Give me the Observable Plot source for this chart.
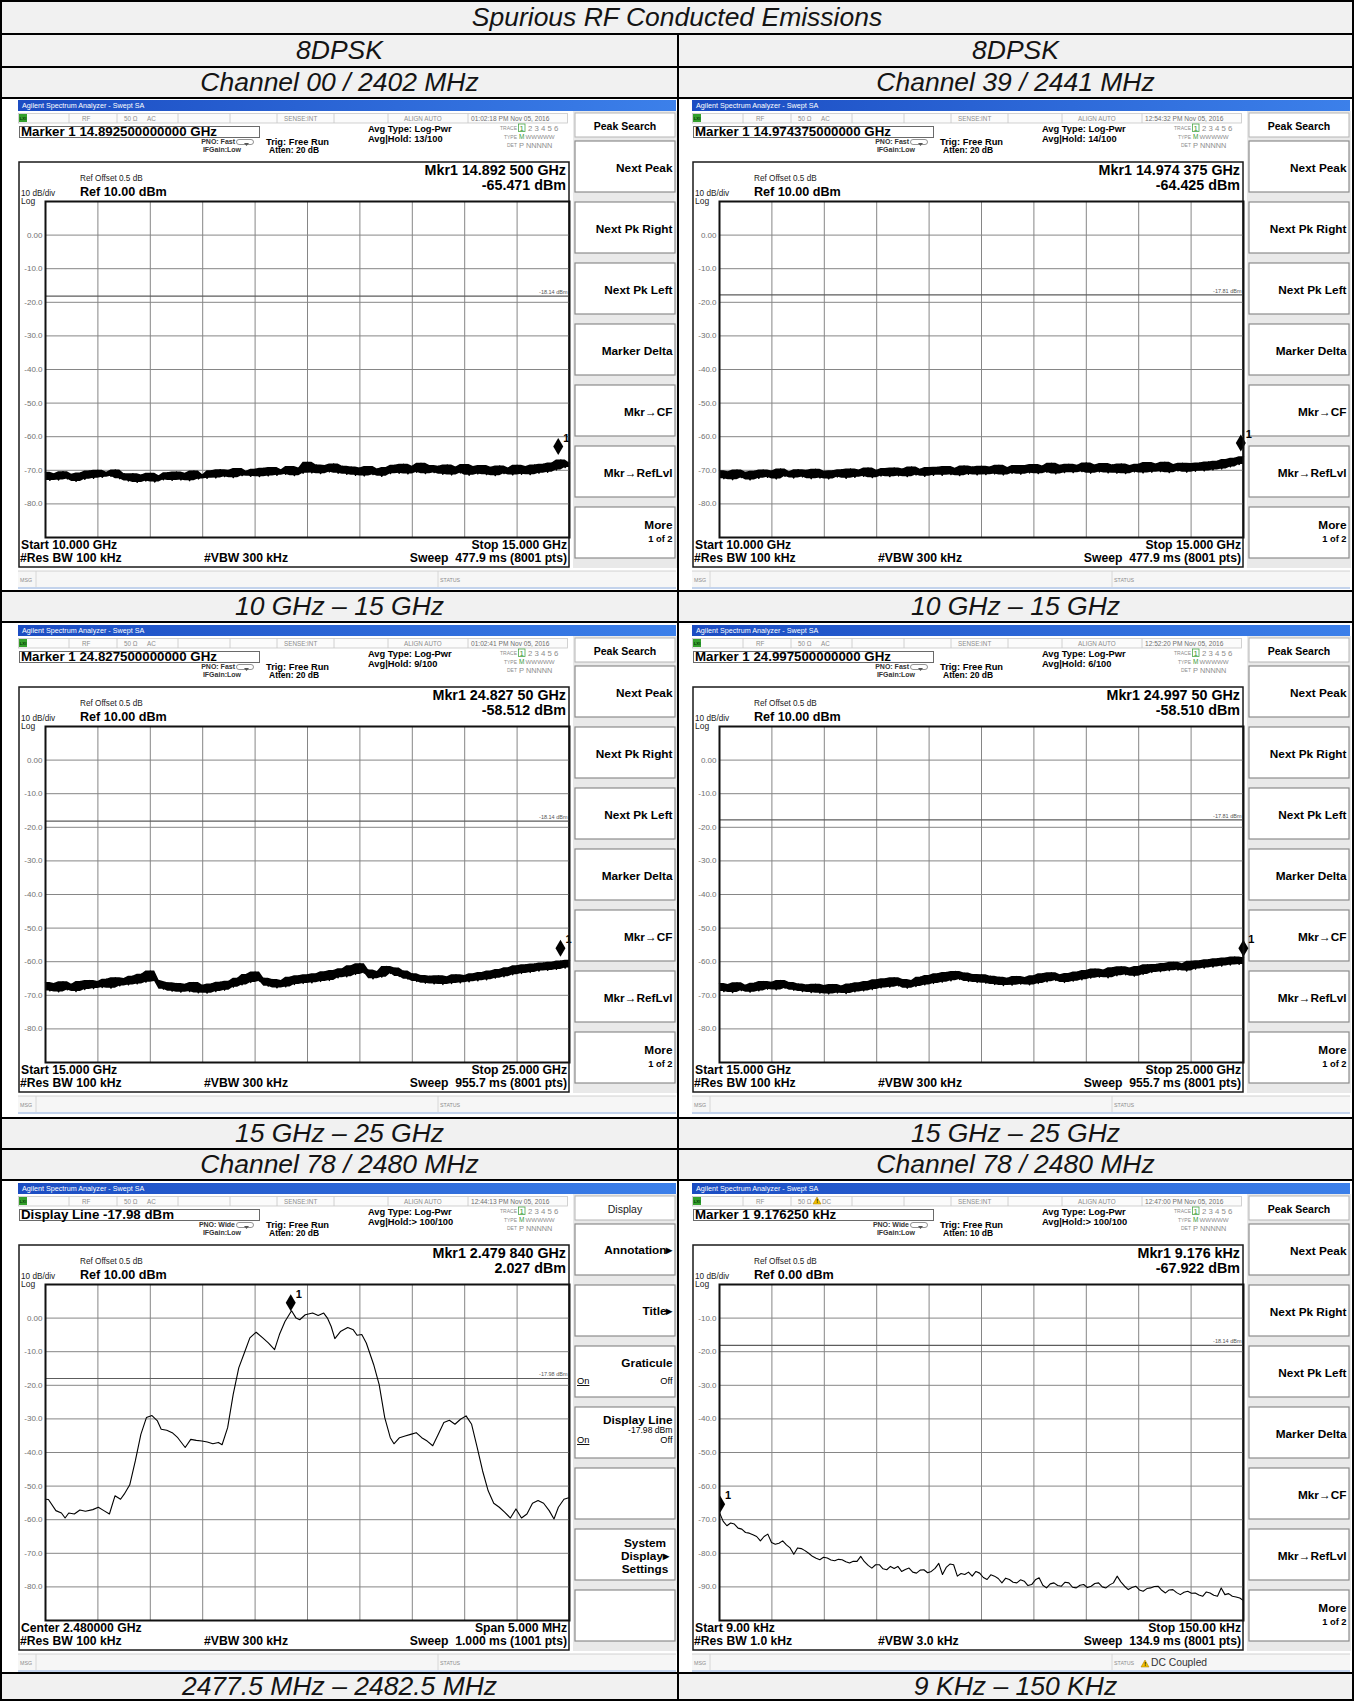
<!DOCTYPE html>
<html>
<head>
<meta charset="utf-8">
<script src="https://cdn.jsdelivr.net/npm/d3@7"></script>
<script src="https://cdn.jsdelivr.net/npm/@observablehq/plot@0.6"></script>
<style>
html,body{margin:0;padding:0;background:#fff;}
#page{position:relative;width:1354px;height:1701px;overflow:hidden;font-family:"Liberation Sans",Arial,Helvetica,sans-serif;}
.cell{position:absolute;background:#f1f1f1;display:flex;align-items:center;justify-content:center;font-style:italic;font-size:26.5px;line-height:1;color:#141414;}
.bd{position:absolute;background:#000;}
.shot{position:absolute;background:#fff;}
.shot svg{position:absolute;overflow:visible;}
</style>
</head>
<body>
<div id="page"></div>
<script>
const FONT = '"Liberation Sans", Arial, Helvetica, sans-serif';

// ---------------- table texts ----------------
const tableTitle = "Spurious RF Conducted Emissions";
const modulation = ["8DPSK", "8DPSK"];
const channelTop = ["Channel 00 / 2402 MHz", "Channel 39 / 2441 MHz"];
const rangeRow1 = ["10 GHz – 15 GHz", "10 GHz – 15 GHz"];
const rangeRow2 = ["15 GHz – 25 GHz", "15 GHz – 25 GHz"];
const channelBottom = ["Channel 78 / 2480 MHz", "Channel 78 / 2480 MHz"];
const rangeRow3 = ["2477.5 MHz – 2482.5 MHz", "9 KHz – 150 KHz"];

// ---------------- sweep settings per screenshot ----------------
const sweepStart = [10, 10, 15, 15, 2477.5, 9];
const sweepStop = [15, 15, 25, 25, 2482.5, 150];
const refLevel = [10, 10, 10, 10, 10, 0];
const displayLine = [-18.14, -17.81, -18.14, -17.81, -17.98, -18.14];
const displayLineLabel = ["-18.14 dBm", "-17.81 dBm", "-18.14 dBm", "-17.81 dBm", "-17.98 dBm", "-18.14 dBm"];
const markerX = [14.8925, 14.974375, 24.8275, 24.9975, 2479.84, 9.17625];
const markerY = [-65.471, -64.425, -58.512, -58.510, 2.027, -67.922];

// ---------------- instrument annotations ----------------
const dates = ["01:02:18 PM Nov 05, 2016", "12:54:32 PM Nov 05, 2016", "01:02:41 PM Nov 05, 2016", "12:52:20 PM Nov 05, 2016", "12:44:13 PM Nov 05, 2016", "12:47:00 PM Nov 05, 2016"];
const markerBox = ["Marker 1 14.892500000000 GHz", "Marker 1 14.974375000000 GHz", "Marker 1 24.827500000000 GHz", "Marker 1 24.997500000000 GHz", "Display Line -17.98 dBm", "Marker 1 9.176250 kHz"];
const mkrFreqText = ["Mkr1 14.892 500 GHz", "Mkr1 14.974 375 GHz", "Mkr1 24.827 50 GHz", "Mkr1 24.997 50 GHz", "Mkr1 2.479 840 GHz", "Mkr1 9.176 kHz"];
const mkrLevelText = ["-65.471 dBm", "-64.425 dBm", "-58.512 dBm", "-58.510 dBm", "2.027 dBm", "-67.922 dBm"];
const pnoText = ["PNO: Fast", "PNO: Fast", "PNO: Fast", "PNO: Fast", "PNO: Wide", "PNO: Wide"];
const attenText = ["Atten: 20 dB", "Atten: 20 dB", "Atten: 20 dB", "Atten: 20 dB", "Atten: 20 dB", "Atten: 10 dB"];
const avgHoldText = ["Avg|Hold: 13/100", "Avg|Hold: 14/100", "Avg|Hold: 9/100", "Avg|Hold: 6/100", "Avg|Hold:> 100/100", "Avg|Hold:> 100/100"];
const refText = ["Ref 10.00 dBm", "Ref 10.00 dBm", "Ref 10.00 dBm", "Ref 10.00 dBm", "Ref 10.00 dBm", "Ref 0.00 dBm"];
const startText = ["Start 10.000 GHz", "Start 10.000 GHz", "Start 15.000 GHz", "Start 15.000 GHz", "Center 2.480000 GHz", "Start 9.00 kHz"];
const stopText = ["Stop 15.000 GHz", "Stop 15.000 GHz", "Stop 25.000 GHz", "Stop 25.000 GHz", "Span 5.000 MHz", "Stop 150.00 kHz"];
const rbwText = ["#Res BW 100 kHz", "#Res BW 100 kHz", "#Res BW 100 kHz", "#Res BW 100 kHz", "#Res BW 100 kHz", "#Res BW 1.0 kHz"];
const vbwText = ["#VBW 300 kHz", "#VBW 300 kHz", "#VBW 300 kHz", "#VBW 300 kHz", "#VBW 300 kHz", "#VBW 3.0 kHz"];
const sweepText = ["Sweep  477.9 ms (8001 pts)", "Sweep  477.9 ms (8001 pts)", "Sweep  955.7 ms (8001 pts)", "Sweep  955.7 ms (8001 pts)", "Sweep  1.000 ms (1001 pts)", "Sweep  134.9 ms (8001 pts)"];
const peakSearchKeys = ["Next Peak", "Next Pk Right", "Next Pk Left", "Marker Delta", "Mkr→CF", "Mkr→RefLvl", "More"];

// ---------------- traces (dBm) ----------------
// Ch 00, 10–15 GHz (121 pts across sweep)
const ch00_10to15 = [
-70.6,-73.0,-71.0,-72.9,-70.4,-72.6,-71.2,-73.3,-70.8,-72.7,
-70.2,-72.4,-70.0,-72.1,-70.6,-71.8,-69.9,-72.5,-71.0,-73.2,
-71.0,-73.6,-71.4,-73.2,-70.9,-73.5,-71.6,-72.8,-70.7,-73.0,
-70.5,-72.9,-70.9,-73.1,-70.2,-72.6,-71.3,-72.4,-70.1,-72.3,
-69.8,-71.9,-70.0,-72.2,-69.5,-71.6,-70.3,-71.8,-69.7,-71.9,
-69.4,-71.7,-69.2,-71.5,-69.8,-71.2,-68.9,-71.6,-69.3,-70.9,
-67.6,-70.8,-68.4,-71.0,-68.6,-70.5,-68.1,-70.9,-68.8,-71.2,
-69.0,-71.5,-69.3,-71.7,-68.9,-71.3,-69.6,-71.8,-69.2,-71.0,
-68.5,-70.9,-68.2,-71.1,-68.8,-70.6,-67.9,-71.0,-68.6,-70.7,
-68.8,-71.2,-68.4,-71.4,-69.0,-70.8,-68.3,-71.5,-68.9,-71.1,
-68.6,-71.3,-69.1,-71.6,-68.7,-71.0,-69.3,-71.4,-68.5,-71.2,
-68.9,-71.3,-68.4,-70.9,-68.2,-70.6,-67.8,-69.9,-66.9,-69.2,-67.8];
// Ch 39, 10–15 GHz
const ch39_10to15 = [
-70.1,-72.5,-70.4,-72.8,-69.9,-72.2,-70.6,-72.9,-70.3,-72.4,
-69.9,-72.1,-70.2,-72.6,-69.6,-71.8,-70.4,-72.3,-69.8,-72.0,
-70.0,-72.5,-69.7,-72.3,-70.3,-72.6,-70.1,-72.0,-69.8,-72.4,
-69.6,-72.1,-69.9,-71.8,-69.3,-72.2,-70.0,-71.7,-69.5,-71.9,
-69.3,-71.7,-69.6,-71.9,-69.0,-71.4,-69.7,-71.8,-69.2,-71.5,
-69.1,-71.5,-68.9,-71.3,-69.4,-71.6,-68.7,-71.2,-69.0,-71.4,
-68.8,-71.3,-69.0,-71.1,-68.5,-71.4,-69.2,-70.9,-68.6,-71.2,
-68.6,-70.8,-68.3,-71.0,-68.7,-70.6,-67.9,-71.1,-68.5,-70.7,
-68.2,-70.7,-68.5,-70.4,-67.8,-70.9,-68.4,-70.5,-68.0,-70.8,
-68.4,-70.9,-68.1,-71.0,-68.6,-70.5,-68.2,-70.8,-67.7,-70.6,
-68.1,-70.4,-67.6,-70.7,-68.3,-70.2,-67.9,-70.6,-68.0,-70.3,
-67.8,-70.2,-67.5,-69.9,-67.3,-69.6,-66.8,-69.0,-66.4,-68.3,-66.0];
// Ch 00, 15–25 GHz
const ch00_15to25 = [
-66.2,-68.7,-66.5,-69.0,-66.0,-68.4,-66.7,-68.9,-65.9,-68.3,
-65.6,-68.0,-65.9,-67.7,-65.2,-67.9,-64.8,-67.2,-65.0,-66.9,
-64.3,-66.6,-63.7,-66.1,-62.8,-65.5,-65.9,-68.2,-66.3,-68.8,
-66.5,-69.1,-66.7,-68.9,-66.2,-69.3,-67.0,-69.4,-66.6,-68.9,
-66.1,-68.5,-65.8,-67.6,-64.9,-66.9,-63.8,-66.2,-63.1,-65.8,
-64.9,-67.3,-65.3,-67.8,-65.6,-67.5,-64.6,-66.8,-64.2,-66.5,
-63.9,-66.3,-63.6,-65.9,-63.0,-65.6,-62.6,-64.8,-62.1,-64.5,
-61.2,-63.8,-60.6,-63.4,-62.5,-65.1,-62.9,-64.6,-61.4,-63.5,
-61.9,-64.4,-62.8,-65.2,-63.6,-65.9,-64.1,-66.4,-64.3,-66.6,
-64.2,-66.8,-64.5,-66.5,-63.9,-66.3,-64.1,-66.0,-63.6,-65.7,
-63.2,-65.4,-62.8,-64.9,-62.3,-64.5,-61.8,-63.9,-61.2,-63.5,
-60.9,-63.2,-60.7,-62.8,-60.4,-62.6,-60.2,-62.3,-59.8,-61.9,-59.6];
// Ch 39, 15–25 GHz
const ch39_15to25 = [
-66.5,-68.9,-66.8,-69.2,-66.3,-68.6,-67.0,-69.1,-66.4,-68.7,
-65.9,-68.2,-66.1,-68.4,-65.6,-67.9,-66.2,-68.5,-66.6,-68.9,
-66.9,-69.2,-66.7,-69.4,-67.1,-69.6,-66.8,-69.3,-67.2,-69.5,
-66.6,-69.0,-66.3,-68.7,-65.9,-68.3,-65.4,-67.8,-65.1,-67.6,
-64.8,-67.2,-65.3,-67.9,-65.6,-67.4,-64.6,-66.9,-64.1,-66.5,
-63.6,-66.1,-63.2,-65.7,-62.9,-65.3,-63.4,-65.9,-63.8,-66.2,
-63.9,-66.4,-64.3,-66.8,-64.6,-67.1,-64.9,-67.0,-64.4,-66.7,
-64.7,-66.9,-64.2,-66.5,-63.6,-66.0,-63.3,-65.6,-63.9,-66.2,
-63.5,-65.8,-63.1,-65.4,-62.6,-64.9,-62.2,-64.6,-62.5,-64.8,
-61.8,-64.2,-61.5,-63.9,-61.9,-64.3,-61.4,-63.8,-60.9,-63.2,
-60.8,-63.0,-60.5,-62.7,-60.2,-62.5,-60.6,-62.8,-59.9,-62.2,
-59.7,-61.9,-59.4,-61.6,-59.1,-61.3,-58.9,-61.0,-58.6,-60.8,-58.8];
// Ch 78 band edge, frequency (MHz) and level (dBm)
const ch78_edge_MHz = [2477.500,2477.528,2477.599,2477.652,2477.687,2477.722,2477.775,2477.828,2477.881,2477.951,
2478.004,2478.057,2478.110,2478.163,2478.216,2478.251,2478.304,2478.357,2478.410,2478.463,
2478.516,2478.568,2478.604,2478.657,2478.709,2478.762,2478.833,2478.886,2478.939,2478.992,
2479.044,2479.097,2479.150,2479.185,2479.238,2479.291,2479.344,2479.397,2479.450,2479.510,
2479.573,2479.626,2479.686,2479.732,2479.785,2479.848,2479.891,2479.926,2479.979,2480.049,
2480.102,2480.155,2480.190,2480.226,2480.261,2480.314,2480.384,2480.437,2480.473,2480.518,
2480.561,2480.631,2480.684,2480.737,2480.790,2480.825,2480.878,2480.931,2480.984,2481.037,
2481.090,2481.142,2481.195,2481.248,2481.301,2481.354,2481.407,2481.460,2481.513,2481.566,
2481.619,2481.671,2481.724,2481.777,2481.830,2481.883,2481.936,2481.989,2482.042,2482.094,
2482.147,2482.200,2482.253,2482.306,2482.352,2482.394,2482.447,2482.500];
const ch78_edge_dBm = [-53.9,-54.0,-57.3,-58.0,-59.5,-58.0,-58.3,-57.1,-57.5,-57.0,
-56.3,-57.3,-58.3,-52.9,-53.9,-52.4,-49.6,-42.5,-34.6,-29.6,
-29.0,-30.6,-33.1,-33.4,-34.1,-35.6,-38.5,-36.1,-36.4,-36.6,
-36.9,-37.4,-37.0,-37.7,-32.6,-22.7,-14.8,-10.4,-5.9,-4.2,
-5.9,-7.4,-9.4,-4.9,-1.0,2.2,0.0,-0.5,1.0,1.5,
0.8,1.5,0.0,-2.5,-6.1,-4.0,-2.8,-3.5,-5.1,-4.9,
-7.4,-13.8,-19.8,-29.6,-35.6,-37.4,-35.6,-35.1,-34.6,-34.1,
-35.6,-36.6,-38.0,-34.6,-31.1,-30.4,-31.6,-30.1,-29.1,-31.6,
-38.5,-45.5,-51.4,-55.1,-56.3,-57.8,-59.5,-56.8,-59.5,-58.3,
-55.1,-54.3,-55.1,-57.3,-59.8,-56.3,-53.9,-53.4];
// Ch 78, 9–150 kHz, one reading per kHz
const ch78_low_dBm = [
-67.9,-70.5,-71.8,-71.0,-71.3,-72.5,-72.8,-73.8,-74.0,-74.5,
-75.0,-76.3,-75.0,-74.3,-76.8,-77.3,-77.0,-76.3,-77.5,-78.4,
-80.3,-78.4,-78.6,-79.2,-80.0,-80.9,-81.5,-81.9,-81.2,-81.4,
-82.0,-82.2,-81.8,-81.9,-82.5,-82.9,-82.4,-82.4,-80.9,-82.5,
-83.6,-84.4,-83.4,-83.4,-84.6,-84.9,-83.9,-84.5,-83.9,-85.4,
-84.8,-84.4,-85.6,-85.9,-85.0,-84.9,-85.8,-85.4,-84.5,-83.0,
-86.3,-84.2,-83.2,-83.4,-86.8,-86.0,-86.3,-85.6,-86.8,-85.4,
-85.9,-87.2,-87.8,-86.4,-86.8,-87.5,-88.8,-87.4,-87.8,-88.6,
-88.8,-87.9,-88.3,-89.6,-89.3,-87.9,-87.3,-89.5,-90.3,-89.1,
-88.8,-89.6,-89.8,-88.6,-88.8,-90.1,-90.3,-89.5,-89.3,-90.2,
-89.8,-89.0,-88.8,-90.0,-90.3,-89.4,-88.8,-86.8,-88.5,-89.8,
-90.8,-90.2,-89.8,-90.9,-91.3,-90.5,-90.3,-89.9,-89.8,-91.0,
-91.8,-90.9,-90.8,-91.7,-92.3,-91.6,-91.3,-91.9,-91.8,-92.4,
-92.8,-91.5,-91.8,-92.5,-92.8,-90.3,-92.3,-92.0,-92.8,-93.0,
-93.3,-94.1];

// ---------------- page helpers ----------------
const page = d3.select("#page");
function border(x, y, w, h) { page.append("div").attr("class", "bd").style("left", x + "px").style("top", y + "px").style("width", w + "px").style("height", h + "px"); }
function cell(x1, x2, y1, y2, text) {
  page.append("div").attr("class", "cell").style("left", x1 + "px").style("top", y1 + "px")
    .style("width", (x2 - x1) + "px").style("height", (y2 - y1) + "px").text(text);
}
const colX = [[2, 677], [679, 1352]];
cell(2, 1352, 2, 33, tableTitle);
[0, 1].forEach(c => {
  cell(colX[c][0], colX[c][1], 35, 66, modulation[c]);
  cell(colX[c][0], colX[c][1], 68, 97, channelTop[c]);
  cell(colX[c][0], colX[c][1], 592, 621, rangeRow1[c]);
  cell(colX[c][0], colX[c][1], 1119, 1148, rangeRow2[c]);
  cell(colX[c][0], colX[c][1], 1150, 1179, channelBottom[c]);
  cell(colX[c][0], colX[c][1], 1674, 1699, rangeRow3[c]);
});
[0, 33, 66, 97, 590, 621, 1117, 1148, 1179, 1672, 1699].forEach(y => border(0, y, 1354, 2));
border(0, 0, 2, 1701); border(1352, 0, 2, 1701); border(677, 33, 2, 1668);

// ---------------- screenshot chrome ----------------
const W = 658, H = 489;
function T(g, x, y, s, size, o = {}) {
  const t = g.append("text").attr("x", x).attr("y", y).attr("font-size", size)
    .attr("fill", o.fill || "#000").attr("text-anchor", o.anchor || "start")
    .style("white-space", "pre").text(s);
  if (o.bold) t.attr("font-weight", "bold");
  if (o.underline) t.attr("text-decoration", "underline");
  return t;
}
function R(g, x, y, w, h, fill, stroke, sw) {
  return g.append("rect").attr("x", x).attr("y", y).attr("width", w).attr("height", h)
    .attr("fill", fill || "none").attr("stroke", stroke || "none").attr("stroke-width", sw || 1);
}
function L(g, x1, y1, x2, y2, stroke, sw) {
  g.append("line").attr("x1", x1).attr("y1", y1).attr("x2", x2).attr("y2", y2).attr("stroke", stroke).attr("stroke-width", sw || 1);
}
function warn(g, x, y) {
  g.append("path").attr("d", `M${x},${y}l4,-7l4,7z`).attr("fill", "#f2c200").attr("stroke", "#a07800").attr("stroke-width", 0.5);
  T(g, x + 3.2, y - 0.8, "!", 5.5, {bold: true});
}

function drawChrome(i, g) {
  const grey = "#8d8d8d";
  const lg = g.append("defs").append("linearGradient").attr("id", "tb" + i).attr("x1", 0).attr("x2", 1).attr("y1", 0).attr("y2", 0);
  lg.append("stop").attr("offset", "0%").attr("stop-color", "#1b4cc2");
  lg.append("stop").attr("offset", "100%").attr("stop-color", "#3c80ea");
  R(g, 0, 0, W, 11, `url(#tb${i})`);
  T(g, 4, 8, "Agilent Spectrum Analyzer - Swept SA", 7.2, {fill: "#fff"});
  // status row
  R(g, 0.5, 13.5, 549, 9.5, "#fbfbfb", "#c6c6c6", 0.8);
  [51, 99, 160, 212, 259, 316, 370, 450].forEach(x => L(g, x, 13.5, x, 23, "#c6c6c6", 0.8));
  R(g, 1, 14, 8, 8, "#34a02c");
  T(g, 1.8, 20.3, "LXI", 4.2, {fill: "#083808", bold: true});
  T(g, 64, 20.5, "RF", 6.3, {fill: grey});
  T(g, 106, 20.5, "50 Ω", 6.3, {fill: grey});
  if (i === 5) { warn(g, 121, 21); T(g, 130, 20.5, "DC", 6.3, {fill: grey}); }
  else T(g, 129, 20.5, "AC", 6.3, {fill: grey});
  T(g, 266, 20.5, "SENSE:INT", 6.3, {fill: grey});
  T(g, 386, 20.5, "ALIGN AUTO", 6.3, {fill: grey});
  T(g, 453, 20.5, dates[i], 6.6, {fill: "#6f6f6f"});
  // marker box
  R(g, 1.5, 26.5, 240, 11, "#fff", "#6a6a6a", 1);
  T(g, 3, 36.3, markerBox[i], 13.3, {bold: true});
  T(g, 217, 44, pnoText[i], 7, {bold: true, anchor: "end", fill: "#333"});
  g.append("path").attr("d", "M221,39.5h12a2.5,2.5 0 0 1 0,5h-12a2.5,2.5 0 0 1 0,-5z").attr("fill", "none").attr("stroke", "#777").attr("stroke-width", 0.8);
  g.append("path").attr("d", "M226,43l2.5,3l2.5,-3z").attr("fill", "#555");
  T(g, 223, 51.5, "IFGain:Low", 7, {bold: true, anchor: "end", fill: "#333"});
  T(g, 248, 45, "Trig: Free Run", 9.3, {bold: true});
  T(g, 251, 53, attenText[i], 8.5, {bold: true});
  T(g, 350, 31.5, "Avg Type: Log-Pwr", 9.3, {bold: true});
  T(g, 350, 41.5, avgHoldText[i], 9.3, {bold: true});
  // trace block
  T(g, 499, 30, "TRACE", 5, {anchor: "end", fill: grey});
  T(g, 499, 38.5, "TYPE", 5, {anchor: "end", fill: grey});
  T(g, 499, 47, "DET", 5, {anchor: "end", fill: grey});
  R(g, 500.5, 24, 6.5, 7.5, "none", "#4aa848", 0.8);
  T(g, 501.5, 30.5, "1", 7.8, {fill: "#3a9a3a"});
  T(g, 510, 30.5, "2 3 4 5 6", 7.8, {fill: grey});
  T(g, 501, 39, "M", 6.5, {fill: "#3a9a3a"});
  T(g, 507.5, 39, "WWWWW", 6.2, {fill: grey});
  T(g, 501, 47.5, "P", 7.5, {fill: grey});
  T(g, 508, 47.5, "NNNNN", 7.3, {fill: grey});
  // graph frame
  R(g, 1, 62, 550, 405, "#fff", "#1a1a1a", 1.5);
  T(g, 548, 75, mkrFreqText[i], 14.3, {anchor: "end", bold: true});
  T(g, 548, 89.5, mkrLevelText[i], 14.3, {anchor: "end", bold: true});
  T(g, 62, 81, "Ref Offset 0.5 dB", 8.2, {fill: "#222"});
  T(g, 3, 96, "10 dB/div", 8.2, {fill: "#222"});
  T(g, 62, 96, refText[i], 12.6, {bold: true});
  T(g, 3, 104, "Log", 8.5, {fill: "#222"});
  T(g, 3, 449, startText[i], 12.2, {bold: true});
  T(g, 549, 449, stopText[i], 12.2, {bold: true, anchor: "end"});
  T(g, 2, 462, rbwText[i], 12.2, {bold: true});
  T(g, 186, 462, vbwText[i], 12.2, {bold: true});
  T(g, 549, 462, sweepText[i], 12.2, {bold: true, anchor: "end"});
  // message row
  R(g, 0, 471, W, 16, "#f6f6f6");
  L(g, 0, 471, W, 471, "#c8c8c8", 0.8);
  L(g, 18, 471, 18, 487, "#d0d0d0", 0.8);
  L(g, 420, 471, 420, 487, "#d0d0d0", 0.8);
  T(g, 2, 481.5, "MSG", 5.3, {fill: grey});
  T(g, 422, 481.5, "STATUS", 5.3, {fill: grey});
  if (i === 5) { warn(g, 449, 484); T(g, 459, 483, "DC Coupled", 10.3, {fill: "#333"}); }
  R(g, 0, 487, W, 2, "#c3d3ec");
  // softkeys
  const kx = 557, kw = 100;
  R(g, kx - 2, 11, kw + 4, 457, "#e9e9e9");
  R(g, kx, 13, kw, 24, "#fff", "#b5b5b5", 1);
  const ky = k => 41 + 61 * k;
  for (let k = 0; k < 7; k++) R(g, kx, ky(k), kw, 51, "#fff", "#8c8c8c", 1.2);
  const right = kx + kw - 2.5;
  if (i === 4) {
    T(g, kx + kw / 2, 30, "Display", 10.5, {anchor: "middle", fill: "#222"});
    T(g, right, ky(0) + 30, "Annotation▸", 11.8, {bold: true, anchor: "end"});
    T(g, right, ky(1) + 30, "Title▸", 11.8, {bold: true, anchor: "end"});
    T(g, right, ky(2) + 21, "Graticule", 11.8, {bold: true, anchor: "end"});
    T(g, kx + 2, ky(2) + 38, "On", 9.3, {underline: true});
    T(g, right, ky(2) + 38, "Off", 9.3, {anchor: "end"});
    T(g, right, ky(3) + 17, "Display Line", 11.8, {bold: true, anchor: "end"});
    T(g, right, ky(3) + 26, displayLineLabel[4], 8.6, {anchor: "end"});
    T(g, kx + 2, ky(3) + 36, "On", 9.3, {underline: true});
    T(g, right, ky(3) + 36, "Off", 9.3, {anchor: "end"});
    T(g, kx + 70, ky(5) + 18, "System", 11.8, {bold: true, anchor: "middle"});
    T(g, kx + 70, ky(5) + 31, "Display▸", 11.8, {bold: true, anchor: "middle"});
    T(g, kx + 70, ky(5) + 44, "Settings", 11.8, {bold: true, anchor: "middle"});
  } else {
    T(g, kx + kw / 2, 29.5, "Peak Search", 10.5, {anchor: "middle", bold: true});
    peakSearchKeys.forEach((s, k) => {
      if (k === 6) {
        T(g, right, ky(k) + 22, s, 11.8, {bold: true, anchor: "end"});
        T(g, right, ky(k) + 35, "1 of 2", 9.3, {bold: true, anchor: "end"});
      } else T(g, right, ky(k) + 31, s, 11.8, {bold: true, anchor: "end"});
    });
  }
}

// ---------------- the spectrum plots ----------------
const tallDiamond = {draw(ctx) { ctx.moveTo(0, 0); ctx.lineTo(5, -8.5); ctx.lineTo(0, -17); ctx.lineTo(-5, -8.5); ctx.closePath(); }};

function spectrumPlot(i, xs, ys, noisy) {
  const x0 = sweepStart[i], x1 = sweepStop[i], ref = refLevel[i];
  const xGrid = d3.range(1, 10).map(k => x0 + k * (x1 - x0) / 10);
  const yGrid = d3.range(1, 10).map(k => ref - 10 * k);
  const fmt = d => d === 0 ? "0.00" : d.toFixed(1);
  // the dense 8001-point sweep reads as a solid band spanning the local min/max of the read values
  const pts = xs.map((x, j) => {
    const w = ys.slice(Math.max(0, j - 1), j + 2);
    return {x, y: ys[j], lo: d3.min(w), hi: d3.max(w)};
  });
  const m = [[markerX[i], markerY[i]]];
  const marks = [
    Plot.ruleX(xGrid, {stroke: "#868686", strokeWidth: 1}),
    Plot.ruleY(yGrid, {stroke: "#868686", strokeWidth: 1}),
    Plot.ruleY([displayLine[i]], {stroke: "#5c5c5c", strokeWidth: 1.2}),
    Plot.text([displayLine[i]], {y: d => d, frameAnchor: "right", text: () => displayLineLabel[i], textAnchor: "end", dx: -2, dy: -4, fontSize: 5.5, fill: "#555"}),
    Plot.text(yGrid, {y: d => d, frameAnchor: "left", textAnchor: "end", dx: -3, text: fmt, fontSize: 8, fill: "#707070"})
  ];
  if (noisy) marks.push(Plot.areaY(pts, {x: "x", y1: "lo", y2: "hi", fill: "#000"}));
  marks.push(
    Plot.line(pts, {x: "x", y: "y", stroke: "#000", strokeWidth: noisy ? 1.3 : 1.1}),
    Plot.dot(m, {symbol: tallDiamond, fill: "#000", r: 5, clip: i === 5}),
    Plot.text(m, {text: () => "1", dx: 8, dy: -17, fontSize: 11, fontWeight: "bold", fill: "#000"}),
    Plot.frame({stroke: "#111", strokeWidth: 2})
  );
  return Plot.plot({
    width: 551, height: 336, marginLeft: 27, marginRight: 0, marginTop: 0, marginBottom: 0,
    x: {domain: [x0, x1], axis: null},
    y: {domain: [ref - 100, ref], axis: null},
    style: {background: "transparent", overflow: "visible", fontFamily: FONT},
    marks
  });
}

const shotLeft = [18, 692];
const shotTop = [100, 625, 1183];
const wide = [ch00_10to15, ch39_10to15, ch00_15to25, ch39_15to25];
for (let i = 0; i < 6; i++) {
  const left = shotLeft[i % 2], top = shotTop[Math.floor(i / 2)];
  const div = page.append("div").attr("class", "shot").style("left", left + "px").style("top", top + "px")
    .style("width", W + "px").style("height", H + "px");
  const svg = div.append("svg").attr("width", W).attr("height", H).style("left", "0px").style("top", "0px").attr("font-family", FONT);
  drawChrome(i, svg);
  let xs, ys, noisy;
  if (i < 4) {
    ys = wide[i];
    xs = ys.map((_, j) => sweepStart[i] + j * (sweepStop[i] - sweepStart[i]) / (ys.length - 1));
    noisy = true;
  } else if (i === 4) { xs = ch78_edge_MHz; ys = ch78_edge_dBm; noisy = false; }
  else { ys = ch78_low_dBm; xs = ys.map((_, j) => sweepStart[5] + j); noisy = false; }
  const plot = spectrumPlot(i, xs, ys, noisy);
  plot.style.position = "absolute"; plot.style.left = "0px"; plot.style.top = "101px";
  div.node().appendChild(plot);
}
</script>
</body>
</html>
